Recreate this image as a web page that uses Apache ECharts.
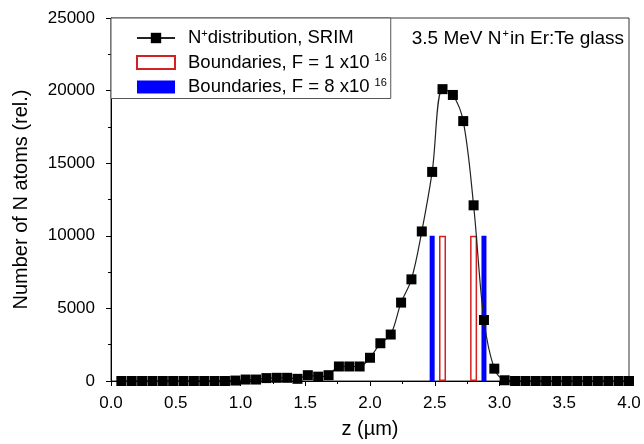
<!DOCTYPE html>
<html>
<head>
<meta charset="utf-8">
<script src="https://cdn.jsdelivr.net/npm/echarts@6/dist/echarts.min.js"></script>
<style>
html,body{margin:0;padding:0;background:#fff;}
#chart{width:644px;height:444px;}
</style>
</head>
<body>
<div id="chart"></div>
<script>
// ---- data ----
const depthZ = [0.08,0.16,0.24,0.32,0.40,0.48,0.56,0.64,0.72,0.80,
                0.88,0.96,1.04,1.12,1.20,1.28,1.36,1.44,1.52,1.60,
                1.68,1.76,1.84,1.92,2.00,2.08,2.16,2.24,2.32,2.40,
                2.48,2.56,2.64,2.72,2.80,2.88,2.96,3.04,3.12,3.20,
                3.28,3.36,3.44,3.52,3.60,3.68,3.76,3.84,3.92,4.00];
const nAtoms = [0,0,0,0,0,0,0,0,0,0,
                0,30,100,100,200,220,220,150,400,300,
                400,1000,1000,1000,1600,2600,3200,5400,7000,10300,
                14400,20100,19700,17900,12100,4200,850,50,0,0,
                0,0,0,0,0,0,0,0,0,0];
const boundsLowF = [2.56, 2.80];   // F = 1 x10^16
const boundsHighF = [2.48, 2.88];  // F = 8 x10^16
const boundaryLevel = 10000;
const xTicks = [0, 4, 0.5];
const yTicks = [0, 25000, 5000];
const seriesNames = ['srim', 'f1', 'f8'];

const FONT = 'Liberation Sans, Arial, sans-serif';
const chart = echarts.init(document.getElementById('chart'));

const lineData = depthZ.map((z, i) => [z, nAtoms[i]]);
const lowData = boundsLowF.map(z => [z, boundaryLevel]);
const highData = boundsHighF.map(z => [z, boundaryLevel]);

const legendText = {
  srim: '{g| }{a|N}{s|+}{a|distribution, SRIM}',
  f1: '{g| }{a|Boundaries, F = 1 x10}{t|16}',
  f8: '{g| }{a|Boundaries, F = 8 x10}{t|16}'
};

const axisCommon = {
  axisLine: {show: true, lineStyle: {color: '#000', width: 1}},
  axisTick: {show: true, inside: false, length: 5, lineStyle: {color: '#000'}},
  minorTick: {show: true, splitNumber: 2, length: 3, lineStyle: {color: '#000'}},
  splitLine: {show: false},
  axisLabel: {color: '#000', fontFamily: FONT, fontSize: 17},
  nameTextStyle: {color: '#000', fontFamily: FONT, fontSize: 20}
};

chart.setOption({
  animation: false,
  backgroundColor: '#fff',
  grid: {left: 111, right: 15, top: 18, bottom: 60, show: true, borderColor: '#333', borderWidth: 1, backgroundColor: 'transparent'},
  title: {
    text: '{a|3.5 MeV N}{s|+}{a|in Er:Te glass}',
    right: 15, top: 23,
    textStyle: {
      fontWeight: 'normal',
      rich: {
        a: {fontFamily: FONT, fontSize: 19, color: '#000', fontWeight: 'normal', lineHeight: 22},
        s: {fontFamily: FONT, fontSize: 11, color: '#000', lineHeight: 11, verticalAlign: 'top', padding: [0, 1, 0, 1]}
      }
    }
  },
  legend: {
    orient: 'vertical',
    left: 111, top: 18,
    padding: [10, 4, 2, 25],
    itemGap: 5,
    itemWidth: 38, itemHeight: 13,
    borderColor: '#555', borderWidth: 1,
    backgroundColor: '#fff',
    data: [
      {name: seriesNames[0]},
      {name: seriesNames[1], icon: 'rect'},
      {name: seriesNames[2], icon: 'rect'}
    ],
    formatter: name => legendText[name],
    textStyle: {
      rich: {
        g: {width: 8, fontSize: 10},
        a: {fontFamily: FONT, fontSize: 18.5, color: '#000', lineHeight: 20},
        s: {fontFamily: FONT, fontSize: 11, color: '#000', lineHeight: 11, verticalAlign: 'top'},
        t: {fontFamily: FONT, fontSize: 11, color: '#000', lineHeight: 11, verticalAlign: 'top', padding: [0, 0, 0, 5]}
      }
    }
  },
  xAxis: [
    Object.assign({}, axisCommon, {
      type: 'value', min: xTicks[0], max: xTicks[1], interval: xTicks[2],
      name: 'z (\u00b5m)', nameLocation: 'middle', nameGap: 38,
      axisLabel: Object.assign({}, axisCommon.axisLabel, {margin: 14, formatter: v => v.toFixed(1)})
    }),
    {type: 'value', min: xTicks[0], max: xTicks[1], show: false, gridIndex: 0}
  ],
  yAxis: Object.assign({}, axisCommon, {
    type: 'value', min: yTicks[0], max: yTicks[1], interval: yTicks[2],
    name: 'Number of N atoms (rel.)', nameLocation: 'middle', nameGap: 80,
    axisLabel: Object.assign({}, axisCommon.axisLabel, {margin: 16, formatter: v => String(v)})
  }),
  series: [
    {
      name: 'f8', type: 'bar', xAxisIndex: 0, data: highData, barWidth: 5,
      itemStyle: {color: '#0000ff'}, z: 2
    },
    {
      name: 'f1', type: 'bar', xAxisIndex: 1, data: lowData, barWidth: 7,
      itemStyle: {color: '#ffffff', borderColor: '#d42020', borderWidth: 1.5}, z: 2
    },
    {
      name: 'srim', type: 'line', xAxisIndex: 0, data: lineData,
      smooth: 0.35,
      symbol: 'rect', symbolSize: 10,
      lineStyle: {color: '#222', width: 1.2},
      itemStyle: {color: '#000'}, z: 4
    }
  ]
});
</script>
</body>
</html>
